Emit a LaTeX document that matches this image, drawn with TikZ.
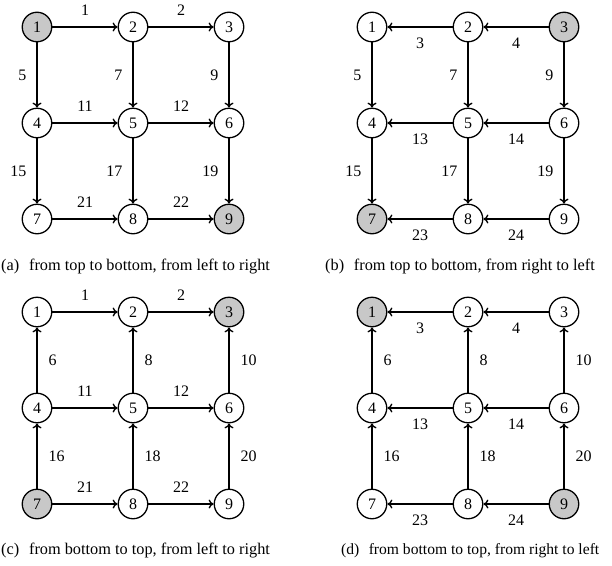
\documentclass[tikz,border=0pt]{standalone}
\usepackage{fontspec}
\setmainfont{Liberation Serif}
\usetikzlibrary{arrows.meta}
\definecolor{shade}{RGB}{200,200,200}
\begin{document}
\begin{tikzpicture}[x=1pt,y=-1pt,
  vtx/.style={circle,draw,line width=1.3pt,minimum size=29.5pt,inner sep=0pt,fill=white,font=\fontsize{16}{18}\selectfont},
  edge/.style={line width=1.35pt,-{To[length=5pt,width=9pt]}},
  lbl/.style={inner sep=0pt,font=\fontsize{16}{18}\selectfont},
  captxt/.style={inner sep=0pt,font=\fontsize{16.3}{19}\selectfont},
  hla1/.style={fill=shade}, hla9/.style={fill=shade},
  hlb3/.style={fill=shade}, hlb7/.style={fill=shade},
  hlc7/.style={fill=shade}, hlc3/.style={fill=shade},
  hld1/.style={fill=shade}, hld9/.style={fill=shade}]
\useasboundingbox (0,0) rectangle (612,565);
\foreach \p/\x/\y in {a/37/27, b/372/27, c/37/312, d/372/312} {
  \foreach \i in {1,...,9} {
    \pgfmathtruncatemacro{\col}{mod(\i-1,3)}
    \pgfmathtruncatemacro{\row}{div(\i-1,3)}
    \node[vtx, hl\p\i/.try] (\p\i) at (\x+\col*96, \y+\row*96) {\i};
  }
}
% panel (a)
\foreach \s/\t/\l in {1/2/1, 2/3/2, 4/5/11, 5/6/12, 7/8/21, 8/9/22}
  \draw[edge] (a\s) -- node[lbl, above=10.5pt]{\l} (a\t);
\foreach \s/\t/\l in {1/4/5, 2/5/7, 3/6/9, 4/7/15, 5/8/17, 6/9/19}
  \draw[edge] (a\s) -- node[lbl, left=10pt]{\l} (a\t);
% panel (b)
\foreach \s/\t/\l in {2/1/3, 3/2/4, 5/4/13, 6/5/14, 8/7/23, 9/8/24}
  \draw[edge] (b\s) -- node[lbl, below=10.5pt]{\l} (b\t);
\foreach \s/\t/\l in {1/4/5, 2/5/7, 3/6/9, 4/7/15, 5/8/17, 6/9/19}
  \draw[edge] (b\s) -- node[lbl, left=10pt]{\l} (b\t);
% panel (c)
\foreach \s/\t/\l in {1/2/1, 2/3/2, 4/5/11, 5/6/12, 7/8/21, 8/9/22}
  \draw[edge] (c\s) -- node[lbl, above=10.5pt]{\l} (c\t);
\foreach \s/\t/\l in {4/1/6, 5/2/8, 6/3/10, 7/4/16, 8/5/18, 9/6/20}
  \draw[edge] (c\s) -- node[lbl, right=11pt]{\l} (c\t);
% panel (d)
\foreach \s/\t/\l in {2/1/3, 3/2/4, 5/4/13, 6/5/14, 8/7/23, 9/8/24}
  \draw[edge] (d\s) -- node[lbl, below=10.5pt]{\l} (d\t);
\foreach \s/\t/\l in {4/1/6, 5/2/8, 6/3/10, 7/4/16, 8/5/18, 9/6/20}
  \draw[edge] (d\s) -- node[lbl, right=11pt]{\l} (d\t);
% captions
\node[captxt, anchor=base west] (capa) at (1,270) {(a)\hspace{0.35em} from top to bottom, from left to right};
\node[captxt, anchor=base west] (capb) at (325,270) {(b)\hspace{0.35em} from top to bottom, from right to left};
\node[captxt, anchor=base west] (capc) at (1,554) {(c)\hspace{0.35em} from bottom to top, from left to right};
\node[captxt, anchor=base west, font=\fontsize{15.6}{18}\selectfont] (capd) at (341,554) {(d)\hspace{0.35em} from bottom to top, from right to left};
\end{tikzpicture}
\end{document}
